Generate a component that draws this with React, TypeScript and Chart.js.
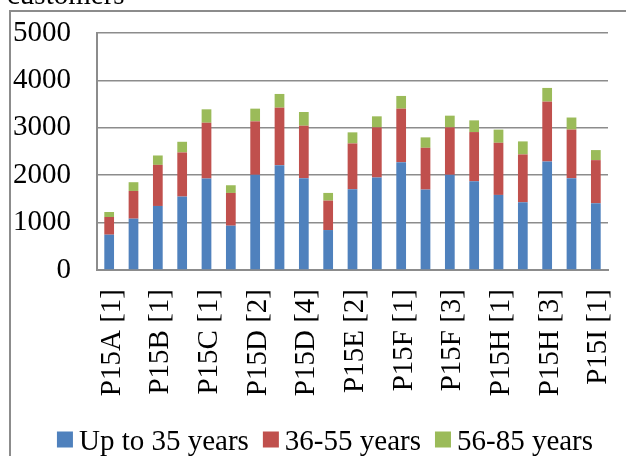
import React, { useEffect, useRef } from "react";
import { Chart, registerables } from "chart.js";

Chart.register(...registerables);

const categories = [
  "P15A [1]", "P15A [2]", "P15B [1]", "P15B [2]", "P15C [1]", "P15D [1]", "P15D [2]",
  "P15D [3]", "P15D [4]", "P15E [1]", "P15E [2]", "P15E [3]", "P15F [1]", "P15F [2]",
  "P15F [3]", "P15G [1]", "P15H [1]", "P15H [2]", "P15H [3]", "P15H [4]", "P15I [1]",
];

const upTo35 = [745, 1083, 1351, 1549, 1930, 935, 2007, 2212, 1937, 843, 1704, 1951, 2275, 1697, 2007, 1873, 1584, 1429, 2289, 1937, 1408];
const age36to55 = [373, 585, 867, 931, 1177, 691, 1129, 1213, 1107, 621, 966, 1058, 1129, 881, 1002, 1037, 1100, 1009, 1263, 1025, 910];
const age56to85 = [106, 184, 198, 225, 283, 162, 268, 289, 289, 162, 234, 233, 268, 220, 247, 247, 278, 275, 289, 255, 212];

const seriesNames = ["Up to 35 years", "36-55 years", "56-85 years"];
const seriesColors = ["#4F81BD", "#C0504D", "#9BBB59"];
const yTicks = [0, 1000, 2000, 3000, 4000, 5000];
const axisTitle = "customers";

const FONT = "'Liberation Serif', 'Times New Roman', serif";

const framePlugin = {
  id: "frame",
  beforeDraw(chart: any) {
    const { ctx, width, height } = chart;
    ctx.save();
    ctx.fillStyle = "#ffffff";
    ctx.fillRect(0, 0, width, height);
    ctx.strokeStyle = "#8c8c8c";
    ctx.lineWidth = 2;
    ctx.beginPath();
    ctx.moveTo(10, height + 5);
    ctx.lineTo(10, 11);
    ctx.lineTo(width + 5, 11);
    ctx.stroke();
    ctx.fillStyle = "#000";
    ctx.font = `29px ${FONT}`;
    ctx.textBaseline = "alphabetic";
    ctx.textAlign = "left";
    ctx.fillText(axisTitle, 7, 4);
    ctx.restore();
  },
  afterDraw(chart: any) {
    const { ctx } = chart;
    ctx.save();
    ctx.font = `29px ${FONT}`;
    ctx.textBaseline = "alphabetic";
    ctx.textAlign = "left";
    const box = 16, gap = 6, spacing = 14;
    const items = chart.data.datasets.map((d: any) => ({
      label: d.label,
      color: d.backgroundColor,
      w: ctx.measureText(d.label).width,
    }));
    const total = items.reduce((s: number, it: any) => s + box + gap + it.w, 0) + spacing * (items.length - 1);
    let x = 325 - total / 2;
    const baseline = 450;
    for (const it of items) {
      ctx.fillStyle = it.color;
      ctx.fillRect(x, 431.5, box, box);
      ctx.fillStyle = "#000";
      ctx.fillText(it.label, x + box + gap, baseline);
      x += box + gap + it.w + spacing;
    }
    ctx.restore();
  },
};

export default function App() {
  const ref = useRef<HTMLCanvasElement | null>(null);

  useEffect(() => {
    document.body.style.margin = "0";
    const canvas = ref.current;
    if (!canvas) return;
    const series = [upTo35, age36to55, age56to85];
    const chart = new Chart(canvas, {
      type: "bar",
      data: {
        labels: categories,
        datasets: series.map((values, i) => ({
          label: seriesNames[i],
          data: values,
          backgroundColor: seriesColors[i],
          borderWidth: 0,
          barPercentage: 0.4,
          categoryPercentage: 1,
        })),
      },
      options: {
        responsive: false,
        animation: false,
        layout: { padding: { top: 33, right: 18, left: 0, bottom: 0 } },
        plugins: {
          legend: { display: false },
          tooltip: { enabled: false },
          title: { display: false },
        },
        scales: {
          x: {
            stacked: true,
            grid: { display: false, drawTicks: false },
            border: { display: true, color: "#8c8c8c", width: 2 },
            ticks: {
              autoSkip: false,
              minRotation: 90,
              maxRotation: 90,
              padding: 19,
              labelOffset: 3,
              color: "#000",
              font: { family: FONT, size: 29 },
              callback: (_v: any, i: number) => (i % 2 === 0 ? categories[i] : ""),
            },
            afterFit: (scale: any) => {
              scale.height = 186;
              scale.paddingLeft = 0;
              scale.paddingRight = 0;
            },
          },
          y: {
            stacked: true,
            min: yTicks[0],
            max: yTicks[yTicks.length - 1],
            grid: { color: "#8c8c8c", lineWidth: 1.5, drawTicks: false },
            border: { display: true, color: "#8c8c8c", width: 2 },
            afterBuildTicks: (scale: any) => {
              scale.ticks = yTicks.map((v) => ({ value: v }));
            },
            ticks: {
              padding: 26,
              color: "#000",
              font: { family: FONT, size: 29 },
              callback: (v: any) => String(v),
            },
            afterFit: (scale: any) => {
              scale.width = 97;
              scale.paddingTop = 0;
              scale.paddingBottom = 0;
            },
          },
        },
      },
      plugins: [framePlugin],
    });
    return () => chart.destroy();
  }, []);

  return (
    <div style={{ width: 626, height: 456 }}>
      <canvas ref={ref} width={626} height={456} style={{ display: "block" }} />
    </div>
  );
}
